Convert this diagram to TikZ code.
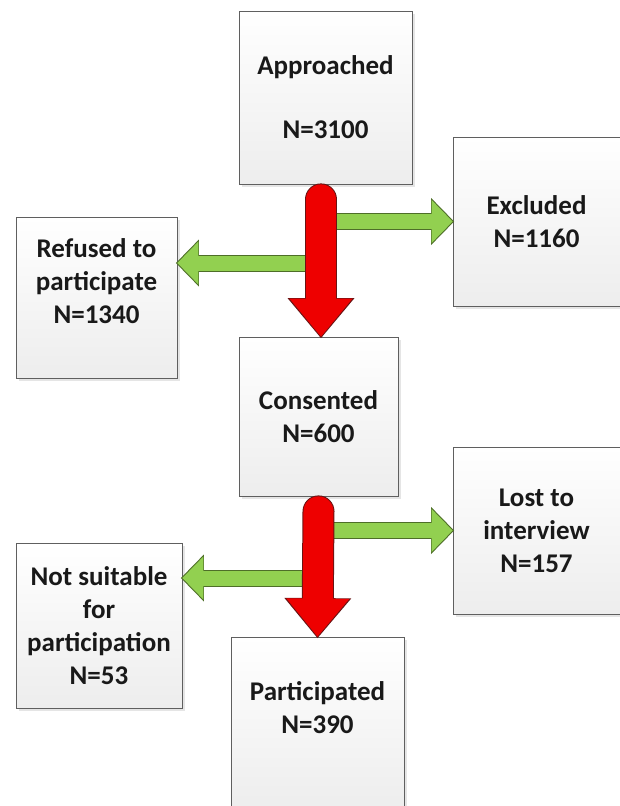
\documentclass[tikz,border=0pt]{standalone}
\usepackage{fontspec}
\setmainfont{Carlito}
\usepackage{tikz}
\usetikzlibrary{arrows.meta, positioning, shadows}

\definecolor{flowred}{RGB}{238, 0, 0}
\definecolor{flowredline}{RGB}{105, 20, 20}
\definecolor{flowgreen}{RGB}{146, 208, 80}
\definecolor{flowgreenline}{RGB}{78, 110, 40}
\definecolor{boxline}{RGB}{95, 95, 95}
\definecolor{boxgray}{RGB}{237, 237, 237}

\begin{document}
\begin{tikzpicture}[x=1pt, y=-1pt,
    box/.style={rectangle, draw=boxline, line width=0.8pt, top color=white,
                bottom color=boxgray, align=center, text=black!90,
                font=\bfseries\fontsize{27}{33}\selectfont,
                drop shadow={shadow xshift=3pt, shadow yshift=-3pt,
                             fill=black!25, opacity=0.4}},
    garrow/.style={draw=flowgreen, line width=15pt,
                   -{Triangle[length=21pt, width=43pt, line width=0pt]},
                   preaction={draw=flowgreenline, line width=17pt, shorten >=-1.5pt,
                              -{Triangle[length=23pt, width=47pt, line width=0pt]}}},
    rarrow/.style={draw=flowred, line width=30pt, line cap=round,
                   -{Triangle[length=38pt, width=63pt, line width=0pt]},
                   preaction={draw=flowredline, line width=32pt, line cap=round,
                              shorten >=-1.5pt,
                              -{Triangle[length=40pt, width=67pt, line width=0pt]}}}
  ]
    \useasboundingbox (0,0) rectangle (619,806);

    \node[box, minimum width=173pt, minimum height=173pt] (appr) at (325.5,97.5) {Approached\\[31pt]N=3100};
    \node[box, minimum width=167pt, minimum height=169pt] (excl) at (536.5,221.5) {Excluded\\N=1160};
    \node[box, minimum width=161pt, minimum height=161pt] (refu) at (96.5,297.5) {Refused to\\participate\\N=1340\\ \mbox{}};
    \node[box, minimum width=159pt, minimum height=159pt] (cons) at (318.5,416.5) {Consented\\N=600};
    \node[box, minimum width=167pt, minimum height=167pt] (lost) at (536.5,530.5) {Lost to\\interview\\N=157};
    \node[box, minimum width=166pt, minimum height=165pt] (nots) at (99,625.5) {Not suitable\\for\\participation\\N=53};
    \node[box, minimum width=173pt, minimum height=173pt] (part) at (317.5,723.5) {Participated\\N=390\\ \mbox{}};

    \coordinate (refuin) at ([yshift=34.5pt]refu.east);
    \coordinate (notsin) at ([yshift=47.5pt]nots.east);

    \draw[garrow] (appr.south |- excl.west) -- (excl.west);
    \draw[garrow] (appr.south |- refuin) -- (refuin);
    \draw[garrow] (cons.south |- lost.west) -- (lost.west);
    \draw[garrow] (cons.south |- notsin) -- (notsin);

    \draw[rarrow] ([xshift=-4.5pt, yshift=-15pt]appr.south) -- ([xshift=2.5pt]cons.north);
    \draw[rarrow] ([yshift=-15pt]cons.south) -- (part.north);
\end{tikzpicture}
\end{document}
